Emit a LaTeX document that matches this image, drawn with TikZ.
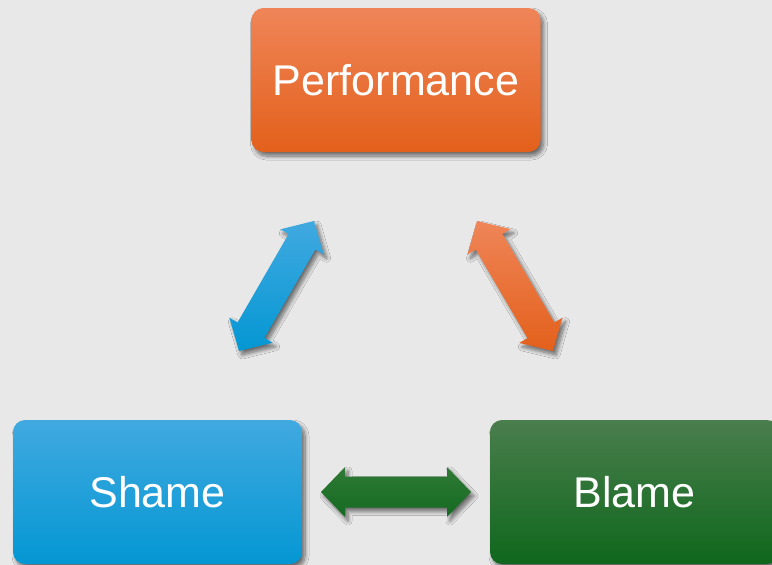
\documentclass[tikz,border=0pt]{standalone}
\usepackage{fontspec}
\setmainfont{Liberation Sans}
\usetikzlibrary{calc,shadows.blur}
\definecolor{bgc}{HTML}{E8E8E8}
\definecolor{orT}{HTML}{EF8558}
\definecolor{orM}{HTML}{EC6C2C}
\definecolor{orB}{HTML}{E3601B}
\definecolor{blT}{HTML}{41A9E0}
\definecolor{blM}{HTML}{10A0DA}
\definecolor{blB}{HTML}{0497D3}
\definecolor{grT}{HTML}{4A7E4D}
\definecolor{grM}{HTML}{1B6E26}
\definecolor{grB}{HTML}{0F671C}
\definecolor{agT}{HTML}{2F7A36}
\definecolor{agB}{HTML}{146A20}
\newcommand\dblarr[3]{%
  \coordinate (a1) at ($(#1)!24pt!(#2)$);
  \coordinate (b1) at ($(#2)!24pt!(#1)$);
  \path[#3] (#1) -- ($(a1)!25pt!90:(#2)$) -- ($(a1)!15.5pt!90:(#2)$)
    -- ($(b1)!15.5pt!-90:(#1)$) -- ($(b1)!25pt!-90:(#1)$) -- (#2)
    -- ($(b1)!25pt!90:(#1)$) -- ($(b1)!15.5pt!90:(#1)$)
    -- ($(a1)!15.5pt!-90:(#2)$) -- ($(a1)!25pt!-90:(#2)$) -- cycle;}
\tikzset{
  shad/.style={blur shadow={shadow xshift=3pt,shadow yshift=-4pt,shadow blur radius=4pt,shadow opacity=55,shadow blur steps=8}},
  box/.style={shad,rectangle,rounded corners=12pt,minimum width=289pt,minimum height=144pt,inner sep=0pt,text=white,font=\fontsize{43}{50}\selectfont},
}
\begin{document}
\begin{tikzpicture}[x=1pt,y=-1pt]
\useasboundingbox (0,0) rectangle (772,565);
\fill[bgc] (0,0) rectangle (772,565);
\clip (0,0) rectangle (772,565);
\node[box,top color=orT,middle color=orM,bottom color=orB] (perf) at (396,80) {Performance};
\node[box,top color=blT,middle color=blM,bottom color=blB] (shame) at (157.5,492) {Shame};
\node[box,top color=grT,middle color=grM,bottom color=grB] (blame) at (634.5,492) {Blame};
\coordinate (bl1) at (239,351);
\coordinate (bl2) at (314,221);
\coordinate (or1) at (477,221);
\coordinate (or2) at (553,351);
\coordinate (gr1) at (321,492);
\coordinate (gr2) at (471,492);
\dblarr{bl1}{bl2}{shad,top color=blT,bottom color=blB}
\dblarr{or1}{or2}{shad,top color=orT,bottom color=orB}
\dblarr{gr1}{gr2}{shad,top color=agT,bottom color=agB}
\end{tikzpicture}
\end{document}
